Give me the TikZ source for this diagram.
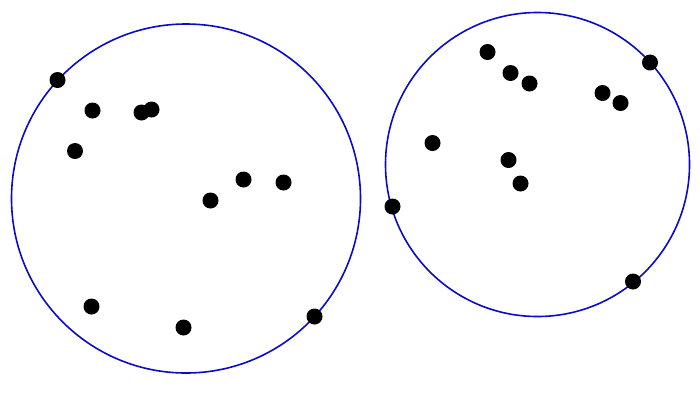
\documentclass[tikz,border=0pt]{standalone}
\begin{document}
\begin{tikzpicture}[x=1pt,y=-1pt,
  ring/.style={draw={rgb,255:red,10;green,10;blue,200},line width=1.6pt},
  dot/.style={circle,fill=black,inner sep=0pt,minimum size=16pt}]
\useasboundingbox (0,0) rectangle (700,400);
\draw[ring] (186,198.5) circle[radius=174.5];
\draw[ring] (537.5,164.5) circle[radius=152];
\foreach \n/\x/\y in {a1/57.5/80, a2/92.5/110.5, a3/141.5/112.5, a4/151.5/109.5, a5/75/151,
  a6/210.5/200.5, a7/243.5/179.5, a8/283.5/182.5, a9/91.5/306.5, a10/183.5/327.5, a11/314.5/316.5,
  b1/487.5/52, b2/510.5/73, b3/529.5/83.5, b4/602.5/93, b5/620.5/103, b6/650/62.5,
  b7/432.5/143, b8/508.5/160, b9/520.5/183.5, b10/392.5/206.5, b11/633/281.5}
  \node[dot] (\n) at (\x,\y) {};
\end{tikzpicture}
\end{document}
